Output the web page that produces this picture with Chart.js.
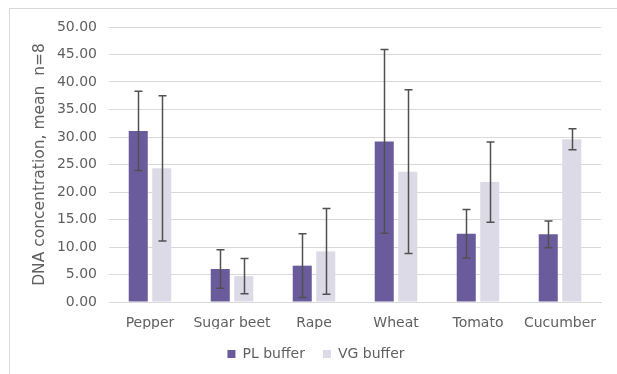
<!DOCTYPE html>
<html>
<head>
<meta charset="utf-8">
<script src="https://cdn.jsdelivr.net/npm/chart.js@4"></script>
<style>
  html, body { margin: 0; padding: 0; background: #fff; }
  #wrap { width: 617px; height: 374px; }
</style>
</head>
<body>
<div id="wrap"><canvas id="myChart" width="617" height="374"></canvas></div>
<script>
const crops = ['Pepper', 'Sugar beet', 'Rape', 'Wheat', 'Tomato', 'Cucumber'];
const plBuffer = [31.1, 6.0, 6.6, 29.2, 12.4, 12.3];
const plError = [7.2, 3.5, 5.8, 16.7, 4.4, 2.45];
const vgBuffer = [24.3, 4.7, 9.2, 23.7, 21.8, 29.6];
const vgError = [13.2, 3.2, 7.8, 14.9, 7.3, 1.9];

const textColor = '#606060';
const fontFamily = 'DejaVu Sans';

// draws error bars and the outer frame
const errorBars = {
    id: 'errorBars',
    afterDatasetsDraw(chart) {
        const c = chart.ctx;
        const y = chart.scales.y;
        const errs = [plError, vgError];
        c.save();
        c.strokeStyle = '#505050';
        c.lineWidth = 1.5;
        chart.data.datasets.forEach((ds, di) => {
            const meta = chart.getDatasetMeta(di);
            meta.data.forEach((bar, i) => {
                const v = ds.data[i];
                const e = errs[di][i];
                const x = Math.round(bar.x) + 0.5;
                const top = y.getPixelForValue(v + e);
                const bot = y.getPixelForValue(v - e);
                c.beginPath();
                c.moveTo(x, top); c.lineTo(x, bot);
                c.moveTo(x - 4, top); c.lineTo(x + 4, top);
                c.moveTo(x - 4, bot); c.lineTo(x + 4, bot);
                c.stroke();
            });
        });
        c.restore();
    },
    beforeDraw(chart) {
        const c = chart.ctx;
        c.save();
        c.fillStyle = '#fff';
        c.fillRect(0, 0, chart.width, chart.height);
        c.strokeStyle = '#d9d9d9';
        c.lineWidth = 1;
        c.strokeRect(9.5, 8.5, 800, 600);
        c.restore();
    }
};

const ctx = document.getElementById('myChart').getContext('2d');
new Chart(ctx, {
    type: 'bar',
    data: {
        labels: crops,
        datasets: [
            {
                label: 'PL buffer',
                data: plBuffer,
                backgroundColor: '#6a5c9c',
                barPercentage: 0.81,
                categoryPercentage: 0.573
            },
            {
                label: 'VG buffer',
                data: vgBuffer,
                backgroundColor: '#dcdae6',
                barPercentage: 0.81,
                categoryPercentage: 0.573
            }
        ]
    },
    options: {
        responsive: false,
        animation: false,
        layout: { padding: { left: 31, right: 16, top: 27, bottom: 3 } },
        plugins: {
            tooltip: { enabled: false },
            legend: {
                position: 'bottom',
                labels: {
                    boxWidth: 8,
                    boxHeight: 8,
                    color: textColor,
                    font: { family: fontFamily, size: 14 },
                    padding: 18
                }
            }
        },
        scales: {
            x: {
                grid: { display: false },
                border: { color: '#d9d9d9' },
                ticks: {
                    color: textColor,
                    font: { family: fontFamily, size: 14 },
                    padding: 5,
                    maxRotation: 0,
                    minRotation: 0,
                    autoSkip: false
                },
                afterFit: s => { s.height = 27; }
            },
            y: {
                min: 0,
                max: 50,
                ticks: {
                    stepSize: 5,
                    color: textColor,
                    font: { family: fontFamily, size: 14 },
                    padding: 12,
                    callback: v => v.toFixed(2)
                },
                grid: { color: '#d9d9d9', drawTicks: false },
                border: { display: false },
                title: {
                    display: true,
                    text: 'DNA concentration, mean  n=8',
                    color: textColor,
                    font: { family: fontFamily, size: 15.5 },
                    padding: 0
                },
                afterFit: s => { s.width = 78; }
            }
        }
    },
    plugins: [errorBars]
});
</script>
</body>
</html>
